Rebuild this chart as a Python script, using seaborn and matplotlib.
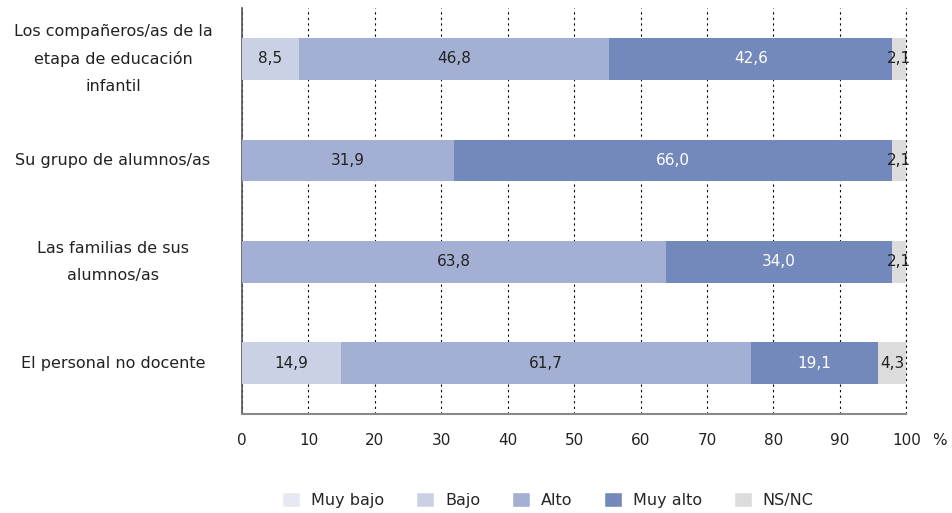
import numpy as np
import pandas as pd
import seaborn as sns
import matplotlib.pyplot as plt
from matplotlib.patches import Patch

# datos
grupos = ["Los compañeros/as de la\netapa de educación\ninfantil",
          "Su grupo de alumnos/as",
          "Las familias de sus\nalumnos/as",
          "El personal no docente"]
niveles = ["Muy bajo", "Bajo", "Alto", "Muy alto", "NS/NC"]
muy_bajo = [0.0, 0.0, 0.0, 0.0]
bajo = [8.5, 0.0, 0.0, 14.9]
alto = [46.8, 31.9, 63.8, 61.7]
muy_alto = [42.6, 66.0, 34.0, 19.1]
ns_nc = [2.1, 2.1, 2.1, 4.3]
colores = ["#e6e9f2", "#cbd1e5", "#a3b0d3", "#7389bb", "#dcdcdc"]

valores = np.array([muy_bajo, bajo, alto, muy_alto, ns_nc])
acumulado = valores.cumsum(axis=0)

sns.set_style("white")
plt.rcParams['font.family'] = ['DejaVu Sans']

fig = plt.figure(figsize=(9.53, 5.13), dpi=100)
ax = fig.add_axes([0.254, 0.193, 0.697, 0.791])

# barras apiladas: de la mayor acumulada a la menor
for i in range(len(niveles) - 1, -1, -1):
    df = pd.DataFrame({"grupo": grupos, "valor": acumulado[i]})
    sns.barplot(data=df, x="valor", y="grupo", color=colores[i], width=0.41,
                saturation=1, linewidth=0, ax=ax, zorder=3)

# etiquetas
for i in range(len(niveles)):
    for j in range(len(grupos)):
        v = valores[i, j]
        if v <= 0:
            continue
        centro = acumulado[i, j] - v / 2
        color = "white" if niveles[i] == "Muy alto" else "#222222"
        ax.text(centro, j, f"{v:.1f}".replace(".", ","), ha="center", va="center",
                fontsize=11, color=color, zorder=5)

ax.set_xlim(0, 100)
ax.set_ylim(3.5, -0.5)
ax.set_xticks(range(0, 101, 10))
ax.set_xticklabels([str(t) for t in range(0, 101, 10)], fontsize=11, color="#222222")
ax.tick_params(axis="x", pad=14, length=0)
for lab in ax.get_yticklabels():
    lab.set_ha("center")
    lab.set_va("center")
    lab.set_fontsize(11.5)
    lab.set_color("#222222")
    lab.set_linespacing(1.95)
ax.tick_params(axis="y", pad=93, length=0)
ax.set_xlabel("")
ax.set_ylabel("")
ax.text(1.05, -0.065, "%", transform=ax.transAxes, fontsize=11, color="#222222",
        ha="center", va="center")

ax.grid(axis="x", color="black", linestyle=(0, (2, 3)), linewidth=0.8, zorder=0)
ax.grid(axis="y", visible=False)
ax.axvline(100, color="black", linestyle=(0, (2, 3)), linewidth=0.8, zorder=0,
           clip_on=False)
for s in ["top", "right"]:
    ax.spines[s].set_visible(False)
ax.spines["left"].set_color("#555555")
ax.spines["bottom"].set_color("#888888")
ax.spines["left"].set_linewidth(1.2)
ax.spines["bottom"].set_linewidth(1.5)

handles = [Patch(facecolor=c, label=n) for c, n in zip(colores, niveles)]
fig.legend(handles=handles, loc="center", bbox_to_anchor=(0.575, 0.025), ncol=5,
           frameon=False, fontsize=11.5, handlelength=1.1, handleheight=1.1,
           columnspacing=2.0, handletextpad=0.7)

fig.savefig("out.png", dpi=100)
